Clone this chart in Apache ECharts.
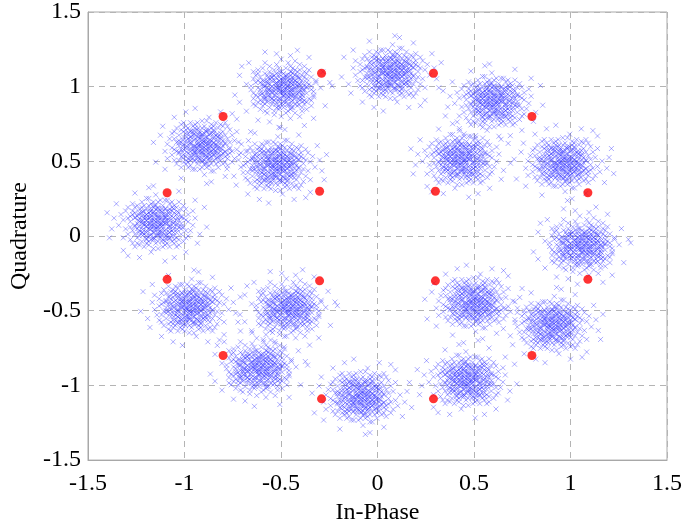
<!DOCTYPE html>
<html>
<head>
<meta charset="utf-8">
<script src="https://cdn.jsdelivr.net/npm/echarts@6/dist/echarts.min.js"></script>
<style>html,body{margin:0;padding:0;background:#fff}#c{width:685px;height:530px}</style>
</head>
<body>
<div id="c"></div>
<script>
// Received-symbol cluster centres (In-Phase, Quadrature)
var clusterI = [0.066, 0.604, 0.96, 1.06, 0.904, 0.47, -0.087, -0.614, -0.975, -1.137, -0.909, -0.487, -0.528, 0.437, 0.497, -0.46];
var clusterQ = [1.089, 0.90, 0.49, -0.07, -0.596, -0.966, -1.076, -0.888, -0.48, 0.084, 0.603, 0.98, 0.473, 0.512, -0.447, -0.49];
// Hand-written scatter offsets around each centre (units of 0.012): wide halo
var spread = [
[0,1],[-3,4],[5,-2],[8,6],[-7,-3],[2,-9],[-1,-4],[4,3],[-6,7],[10,-1],
[-4,-8],[3,11],[-9,2],[6,-6],[1,5],[-2,-1],[7,1],[-5,-5],[12,4],[-11,-2],
[0,-6],[5,8],[-8,9],[3,-3],[-3,0],[9,-8],[-1,13],[2,2],[-6,-10],[14,-3],
[-13,5],[4,-12],[-2,6],[6,3],[-7,1],[1,-7],[8,-4],[-4,2],[0,9],[11,7],
[-10,-6],[3,-1],[-5,11],[7,-10],[-1,3],[2,-5],[-8,-1],[5,5],[-3,-12],[15,2],
[-15,-1],[1,16],[4,0],[-2,-3],[9,4],[-6,4],[0,-2],[6,-1],[-9,-9],[3,7],
[-4,5],[10,9],[-12,8],[2,-14],[-1,-8],[7,12],[-7,-7],[4,-7],[-3,8],[13,-6],
[-11,3],[0,4],[5,-9],[-5,-2],[8,1],[-2,10],[1,-11],[6,7],[-8,5],[11,-4],
[-6,-4],[2,6],[-10,0],[9,-3],[-1,-5],[4,10],[-14,-4],[3,-6],[-3,3],[16,5],
[-9,-12],[7,-5],[-4,-6],[0,12],[12,-9],[-7,6],[5,2],[-2,-9],[10,3],[-5,8],
[1,1],[-12,-8],[8,-12],[-3,13],[6,10],[-8,-5],[3,4],[-1,-1],[14,7],[-6,1],
[2,-8],[-11,10],[9,0],[-4,-11],[5,-4],[-2,2],[11,11],[-16,3],[0,-10],[7,4],
[-9,6],[4,-3],[-5,-8],[12,1],[-1,7],[3,-16],[-7,-11],[8,8],[-10,-3],[1,-3],
[6,-13],[-3,-6],[10,-6],[-13,-7],[2,9],[-6,12],[5,14],[-8,2],[0,3],[13,3],
[-4,0],[7,-2],[-12,2],[4,6],[-2,-13],[9,10],[-15,7],[3,1],[-5,3],[11,-11],
[-1,-7],[6,0],[-7,-9],[2,12],[-10,8],[8,-7],[-3,-4],[1,8],[15,-8],[-9,-2],
[4,-10],[-6,9],[10,6],[-4,13],[5,-7],[-11,-10],[0,-14],[7,9],[-2,5],[12,-2],
[-8,-13],[3,2],[-5,-13],[9,-11],[-13,1],[1,-2],[6,4],[-7,10],[4,14],[-1,0],
[17,-1],[-3,-10],[8,3],[-10,4],[2,-1],[-6,-7],[11,5],[-4,7],[0,7],[5,-11],
[-9,12],[13,9],[-12,-4],[3,-9],[-2,1],[7,6],[-8,-8],[1,10],[-5,-1],[10,-13],
[19,3],[-18,-6],[4,20],[-7,-19],[21,-8],[-20,9],[10,17],[-12,-16],[15,-15],[-16,13],
[22,6],[-3,-21],[8,-19],[-21,-2],[18,11],[-9,18],[13,-18],[-17,-11],[2,21],[20,-3]
];
// Hand-written core offsets (units of 0.02)
var core = [
[1,0],[-2,1],[0,-2],[3,2],[-1,-3],[2,-1],[-3,-1],[1,3],[4,-2],[-4,2],
[0,0],[2,4],[-2,-4],[5,1],[-5,0],[1,-5],[-1,5],[3,-3],[-3,3],[0,2],
[2,0],[-1,-1],[4,4],[-4,-3],[1,-2],[-2,2],[3,0],[0,-4],[-3,-5],[5,-3],
[-5,4],[2,5],[-1,2],[1,1],[-4,0],[3,-5],[0,5],[-2,-2],[4,1],[-3,1],
[6,-1],[-6,2],[1,-3],[-1,4],[2,-4],[-2,0],[3,3],[0,-1],[-4,-1],[5,3],
[1,6],[-1,-6],[2,2],[-3,-2],[4,-4],[-5,-2],[0,3],[3,-1],[-2,5],[1,-1],
[-1,0],[2,-2],[-3,4],[4,0],[0,-3],[-2,3],[5,-1],[-4,5],[1,4],[-6,-1],
[3,1],[-1,-4],[2,3],[-5,2],[0,1],[4,-3],[-3,-3],[1,2],[-2,-5],[6,2]
];
// Reference constellation points
var refI = [0.3, -0.3, -0.3, 0.3, 1.09, 0.8, 0.29, -0.29, -0.8, -1.09, -1.09, -0.8, -0.29, 0.29, 0.8, 1.09];
var refQ = [0.3, 0.3, -0.3, -0.3, 0.29, 0.8, 1.09, 1.09, 0.8, 0.29, -0.29, -0.8, -1.09, -1.09, -0.8, -0.29];
var ticks = [-1.5, -1, -0.5, 0, 0.5, 1, 1.5];

var rxData = [];
function addCluster(k, list, unit) {
  var v = k % 4;
  for (var i = 0; i < list.length; i++) {
    var dx = list[i][0], dy = list[i][1];
    if (v === 1) dx = -dx;
    else if (v === 2) dy = -dy;
    else if (v === 3) { var t = dx; dx = dy; dy = t; }
    rxData.push([clusterI[k] + dx * unit, clusterQ[k] + dy * unit]);
  }
}
for (var k = 0; k < clusterI.length; k++) {
  addCluster(k, spread, 0.012);
  addCluster(k, core, 0.02);
}
var refData = refI.map(function (x, i) { return [x, refQ[i]]; });

var font = 'Liberation Serif, Times New Roman, serif';
var chart = echarts.init(document.getElementById('c'), null, {renderer: 'canvas'});
function axis(name, gap, margin) {
  return {
    type: 'value', min: ticks[0], max: ticks[ticks.length - 1], interval: 0.5,
    name: name, nameLocation: 'middle', nameGap: gap,
    nameTextStyle: {fontFamily: font, fontSize: 24, color: '#000'},
    axisLine: {show: true, onZero: false, lineStyle: {color: '#a8a8a8', width: 1}},
    axisTick: {show: false},
    axisLabel: {fontFamily: font, fontSize: 24, color: '#000', margin: margin},
    splitLine: {show: true, lineStyle: {color: '#b4b4b4', type: [6, 5], width: 1}}
  };
}
var xa = axis('In-Phase', 40, 12);
var ya = axis('Quadrature', 56, 7);
chart.setOption({
  animation: false,
  backgroundColor: '#fff',
  grid: {left: 78, right: 16, top: 10, bottom: 57, show: true, borderColor: '#a8a8a8', borderWidth: 1},
  xAxis: xa,
  yAxis: ya,
  series: [
    {
      type: 'scatter', data: rxData, symbol: 'path://M0,0L10,10M10,0L0,10', symbolSize: 5,
      progressive: 0, silent: true,
      itemStyle: {color: 'rgba(0,0,0,0)', borderColor: 'rgba(40,40,255,0.8)', borderWidth: 0.6}
    },
    {
      type: 'scatter', data: refData, symbol: 'circle', symbolSize: 9, silent: true, z: 5,
      itemStyle: {color: '#ff0000'}
    }
  ]
});
</script>
</body>
</html>
